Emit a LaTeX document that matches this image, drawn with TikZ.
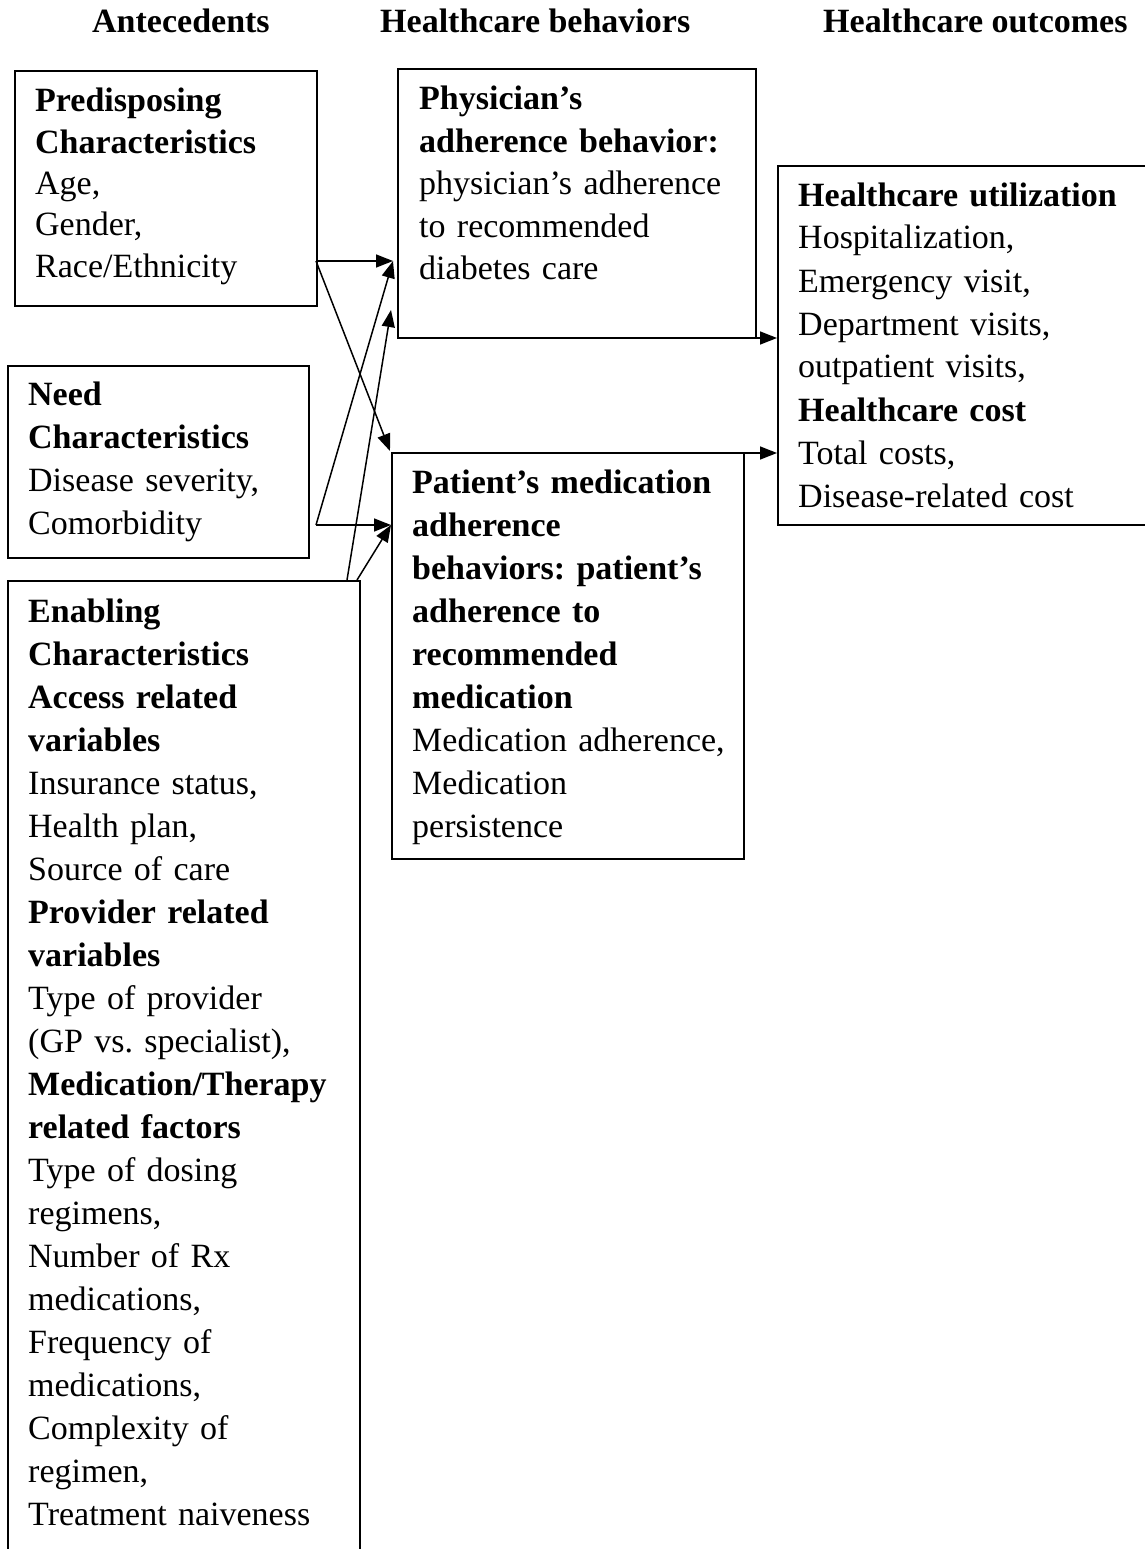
\documentclass[tikz,border=0pt]{standalone}
\usepackage{fontspec}
\setmainfont{Liberation Serif}[Ligatures=TeX]
\usetikzlibrary{arrows.meta}
\frenchspacing
\begin{document}
\begin{tikzpicture}[x=1pt,y=-1pt,
  box/.style={draw=black, line width=2pt, rectangle, inner sep=0pt, anchor=north west},
  txt/.style={anchor=base west, inner sep=0pt, align=left, text width=360pt,
              font=\fontsize{34}{43}\selectfont\frenchspacing},
  head/.style={anchor=base west, inner sep=0pt, font=\fontsize{34}{43}\selectfont\bfseries},
  arr/.style={line width=1.5pt, -{Triangle[length=17pt,width=13pt]}}]
\useasboundingbox (0,0) rectangle (1144,1549);

% headers
\node[head] (h1) at (92,33) {Antecedents};
\node[head] (h2) at (380,33) {Healthcare behaviors};
\node[head] (h3) at (823,33) {Healthcare outcomes};

% boxes
\node[box, minimum width=302pt, minimum height=235pt] (pre) at (14,70) {};
\node[box, minimum width=358pt, minimum height=269pt] (phys) at (397,68) {};
\node[box, minimum width=371pt, minimum height=359pt] (out) at (777,165) {};
\node[box, minimum width=301pt, minimum height=192pt] (need) at (7,365) {};
\node[box, minimum width=352pt, minimum height=990pt] (enab) at (7,580) {};
\node[box, minimum width=352pt, minimum height=406pt] (pat) at (391,452) {};

% texts
\node[txt, font=\fontsize{34}{41.3}\selectfont\frenchspacing] (preT) at (35,112)
  {\textbf{Predisposing}\\ \textbf{Characteristics}\\ Age,\\ Gender,\\ Race/Ethnicity};
\node[txt, font=\fontsize{34}{42.5}\selectfont\frenchspacing] (physT) at (419,110)
  {\textbf{Physician’s}\\ \textbf{adherence behavior:}\\ physician’s adherence\\ to recommended\\ diabetes care};
\node[txt] (outT) at (798,206)
  {\textbf{Healthcare utilization}\\ Hospitalization,\\ Emergency visit,\\ Department visits,\\ outpatient visits,\\ \textbf{Healthcare cost}\\ Total costs,\\ Disease-related cost};
\node[txt] (needT) at (28,405)
  {\textbf{Need}\\ \textbf{Characteristics}\\ Disease severity,\\ Comorbidity};
\node[txt] (enabT) at (28,622)
  {\textbf{Enabling}\\ \textbf{Characteristics}\\ \textbf{Access related}\\ \textbf{variables}\\ Insurance status,\\ Health plan,\\ Source of care\\ \textbf{Provider related}\\ \textbf{variables}\\ Type of provider\\ (GP vs. specialist),\\ \textbf{Medication/Therapy}\\ \textbf{related factors}\\ Type of dosing\\ regimens,\\ Number of Rx\\ medications,\\ Frequency of\\ medications,\\ Complexity of\\ regimen,\\ Treatment naiveness};
\node[txt] (patT) at (412,493)
  {\textbf{Patient’s medication}\\ \textbf{adherence}\\ \textbf{behaviors: patient’s}\\ \textbf{adherence to}\\ \textbf{recommended}\\ \textbf{medication}\\ Medication adherence,\\ Medication\\ persistence};

% connector end points
\coordinate (s1) at (316,261);
\coordinate (t1) at (393,261);
\coordinate (t2) at (390,451);
\coordinate (s2) at (316,525);
\coordinate (t3) at (391,525);
\coordinate (s3) at (347,580);
\coordinate (t5) at (391,310);
\coordinate (s4) at (357,580);
\coordinate (s5) at (732,338);
\coordinate (t6) at (777,338);
\coordinate (s6) at (728,453);
\coordinate (t7) at (777,453);

% connectors
\draw[arr] (s1) -- (t1);
\draw[arr] (s1) -- (t2);
\draw[arr] (s2) -- (t3);
\draw[arr] (s2) -- (t1);
\draw[arr] (s3) -- (t5);
\draw[arr] (s4) -- (t3);
\draw[arr] (s5) -- (t6);
\draw[arr] (s6) -- (t7);
\end{tikzpicture}
\end{document}
